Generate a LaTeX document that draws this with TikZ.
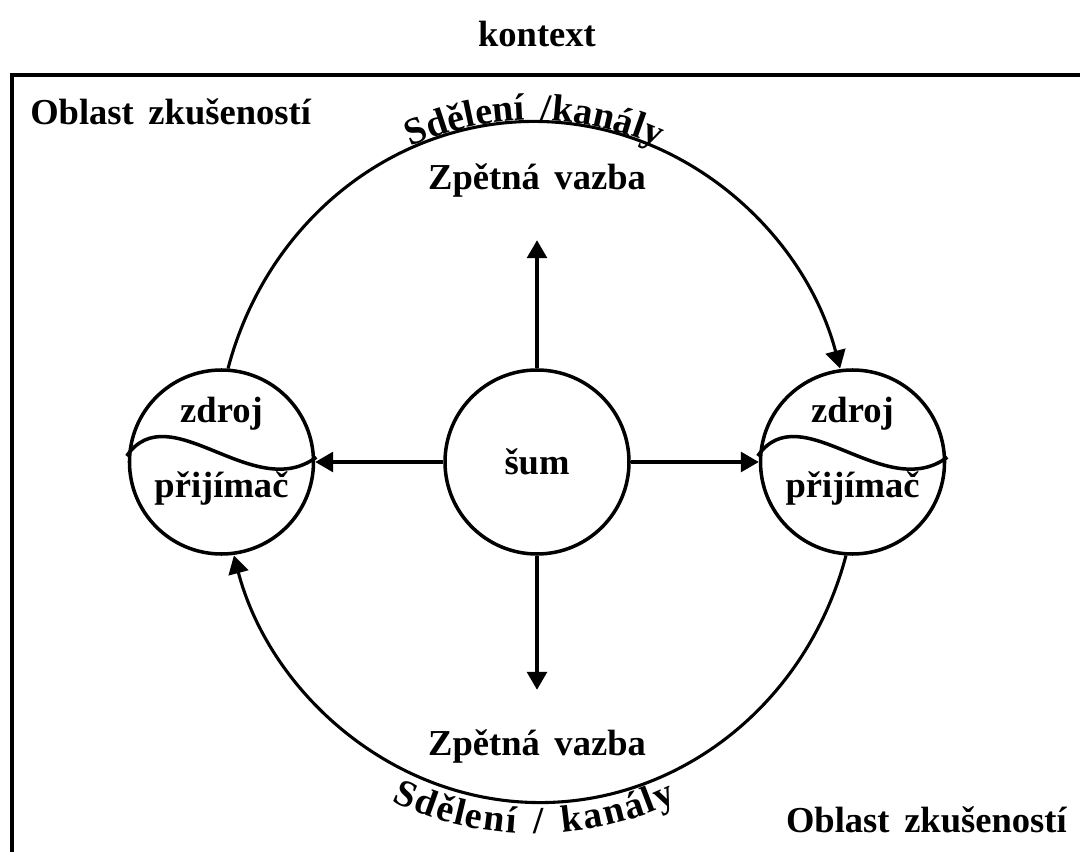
\documentclass[tikz,border=0pt]{standalone}
\usepackage{fontspec}
\setmainfont{Liberation Serif}[WordSpace=1.6]
\usetikzlibrary{arrows.meta,calc,positioning,decorations.text}
\newcommand\arcfont{\fontsize{26}{30}\selectfont\bfseries}
\newcommand\obloukfont{\fontsize{27}{30}\selectfont\bfseries}

\begin{document}
\begin{tikzpicture}[
    kruh/.style={draw, circle, line width=2.5pt, minimum size=4.6cm, inner sep=0pt},
    sipka/.style={line width=2.2pt, -{Triangle[length=0.45cm, width=0.5cm]}},
    popis/.style={font=\arcfont, inner sep=0pt},
    vlna/.style={line width=2.5pt}
  ]
  \useasboundingbox (0,0) rectangle (27,21.3);
  \draw[line width=2.8pt] (0.3,0) -- (0.3,19.425) -- (27,19.425);

  \node[kruh, popis] (sum) at (13.425,9.75) {šum};
  \node[kruh, left=3.2cm of sum] (zdrojL) {};
  \node[kruh, right=3.2cm of sum] (zdrojR) {};

  \foreach \k in {zdrojL,zdrojR}{
    \draw[vlna] ($(\k)+(-2.37,0.15)$) .. controls ($(\k)+(-1.3,1.7)$) and ($(\k)+(0.8,-1.05)$) .. ($(\k)+(2.37,0.12)$);
    \node[popis, anchor=base] (\k-a) at ($(\k)+(0,0.975)$) {zdroj};
    \node[popis, anchor=base] (\k-b) at ($(\k)+(0,-0.9)$) {přijímač};
  }

  \node[popis, anchor=base] (kontext) at (13.425,20.125) {kontext};
  \node[popis, anchor=base west] (oblastH) at (0.75,18.175) {Oblast zkušeností};
  \node[popis, anchor=base east] (oblastD) at (26.675,0.5) {Oblast zkušeností};
  \node[popis, anchor=base] (vazbaH) at (13.425,16.55) {Zpětná vazba};
  \node[popis, anchor=base] (vazbaD) at (13.425,2.425) {Zpětná vazba};

  \coordinate (hore) at ($(sum.north)+(0,3.2)$);
  \coordinate (dole) at ($(sum.south)+(0,-3.35)$);
  \draw[sipka] (sum.north) -- (hore);
  \draw[sipka] (sum.south) -- (dole);
  \draw[sipka] (sum.west) -- (zdrojL.east);
  \draw[sipka] (sum.east) -- (zdrojR.west);

  \draw[sipka] (zdrojL.86) arc[start angle=164.25, end angle=15.75, x radius=7.95cm, y radius=8.475cm];
  \draw[sipka] (zdrojR.-94) arc[start angle=-15.75, end angle=-164.25, x radius=7.95cm, y radius=8.475cm];

  \path[decorate, decoration={text along path, text align=center, raise=0.03cm,
      text={|\obloukfont|Sdělení /kanály}}]
    (zdrojL.86) arc[start angle=164.25, end angle=15.75, x radius=7.95cm, y radius=8.475cm];
  \path[decorate, decoration={text along path, text align=center, raise=-0.78cm,
      text={|\obloukfont|Sdělení / kanály}}]
    (zdrojL.-86) arc[start angle=-164.25, end angle=-15.75, x radius=7.95cm, y radius=8.475cm];
\end{tikzpicture}
\end{document}
